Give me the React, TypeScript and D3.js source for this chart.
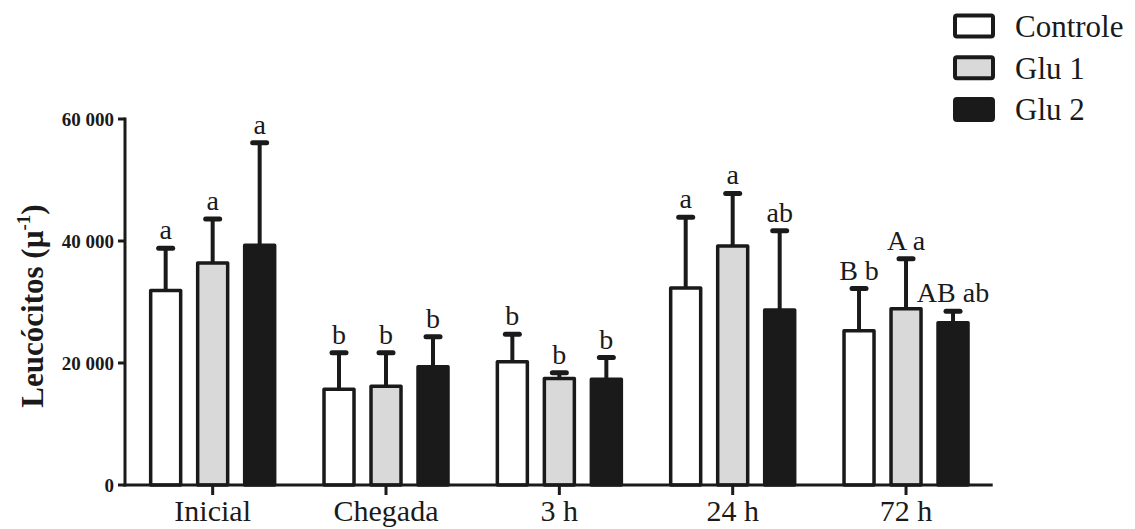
import React from "react";
import * as d3 from "d3";

// Leukocyte counts per sampling time and group (mean and upper SD whisker)
const categories = ["Inicial", "Chegada", "3 h", "24 h", "72 h"];
const seriesNames = ["Controle", "Glu 1", "Glu 2"];

const controleMean = [31900, 15700, 20200, 32300, 25300];
const controleUpper = [38800, 21700, 24700, 43900, 32200];
const glu1Mean = [36400, 16200, 17450, 39200, 28900];
const glu1Upper = [43600, 21700, 18400, 47800, 37100];
const glu2Mean = [39300, 19400, 17350, 28700, 26600];
const glu2Upper = [56100, 24300, 20900, 41700, 28500];

const controleLetters = ["a", "b", "b", "a", "B b"];
const glu1Letters = ["a", "b", "b", "a", "A a"];
const glu2Letters = ["a", "b", "b", "ab", "AB ab"];

const yTicks = [0, 20000, 40000, 60000];

const fills = ["#ffffff", "#d9d9d9", "#1a1a1a"];
const INK = "#1a1a1a";
const SERIF = "'Liberation Serif', 'Times New Roman', serif";

const W = 1135;
const H = 529;

export default function App() {
  const x0 = d3.scaleBand<string>().domain(categories).range([126, 992.7]).padding(0);
  const x1 = d3.scaleBand<string>().domain(seriesNames).range([-70.5, 70.5]).padding(0);
  const y = d3.scaleLinear().domain([0, 60000]).range([485, 119]);

  const series = [
    { name: seriesNames[0], mean: controleMean, upper: controleUpper, letters: controleLetters },
    { name: seriesNames[1], mean: glu1Mean, upper: glu1Upper, letters: glu1Letters },
    { name: seriesNames[2], mean: glu2Mean, upper: glu2Upper, letters: glu2Letters },
  ];

  const barW = 30;
  const fmt = (v: number) => (v === 0 ? "0" : d3.format(",")(v).replace(/,/g, " "));

  return (
    <svg
      width={W}
      height={H}
      style={{ position: "absolute", left: 0, top: 0, background: "#fff" }}
      fontFamily={SERIF}
    >
      <rect x={0} y={0} width={W} height={H} fill="#fff" />

      {/* bars, whiskers and significance letters */}
      {series.map((s, si) =>
        categories.map((c, ci) => {
          const cx = (x0(c) as number) + x0.bandwidth() / 2 + (x1(s.name) as number) + x1.bandwidth() / 2;
          const yTop = y(s.mean[ci]);
          const yErr = y(s.upper[ci]);
          return (
            <g key={`${si}-${ci}`}>
              <line x1={cx} x2={cx} y1={yTop} y2={yErr} stroke={INK} strokeWidth={4} />
              <line x1={cx - 7} x2={cx + 7} y1={yErr} y2={yErr} stroke={INK} strokeWidth={5} strokeLinecap="round" />
              <rect
                x={cx - barW / 2}
                y={yTop}
                width={barW}
                height={y(0) - yTop}
                fill={fills[si]}
                stroke={INK}
                strokeWidth={3.5}
                strokeLinejoin="round"
              />
              <text x={cx} y={yErr - 9} textAnchor="middle" fontSize={28} fill={INK}>
                {s.letters[ci]}
              </text>
            </g>
          );
        })
      )}

      {/* y axis */}
      <line x1={125} x2={125} y1={y(60000) - 1.5} y2={y(0) + 1.5} stroke={INK} strokeWidth={3} />
      {yTicks.map((t) => (
        <g key={t}>
          <line x1={118} x2={125} y1={y(t)} y2={y(t)} stroke={INK} strokeWidth={3} />
          <text
            x={114}
            y={y(t)}
            dy="0.35em"
            textAnchor="end"
            fontSize={19}
            fontWeight="bold"
            fill={INK}
          >
            {fmt(t)}
          </text>
        </g>
      ))}

      {/* x axis */}
      <line x1={123.5} x2={992.7} y1={y(0)} y2={y(0)} stroke={INK} strokeWidth={3} />
      {categories.map((c) => {
        const cx = (x0(c) as number) + x0.bandwidth() / 2;
        return (
          <g key={c}>
            <line x1={cx} x2={cx} y1={y(0)} y2={y(0) + 10} stroke={INK} strokeWidth={3} />
            <text x={cx} y={521} textAnchor="middle" fontSize={30} fill={INK}>
              {c}
            </text>
          </g>
        );
      })}

      {/* y axis title */}
      <text
        transform={`translate(43, 306) rotate(-90)`}
        textAnchor="middle"
        fontSize={31}
        fontWeight="bold"
        fill={INK}
      >
        Leucócitos (µ
        <tspan fontSize={19} dy={-13}>-1</tspan>
        <tspan dy={13}>)</tspan>
      </text>

      {/* legend */}
      {seriesNames.map((n, i) => {
        const cy = 26 + i * 41.7;
        return (
          <g key={n}>
            <rect
              x={955}
              y={cy - 10.5}
              width={38}
              height={21}
              rx={2}
              fill={fills[i]}
              stroke={INK}
              strokeWidth={4}
            />
            <text x={1015} y={cy} dy="0.35em" fontSize={31} fill={INK}>
              {n}
            </text>
          </g>
        );
      })}
    </svg>
  );
}
